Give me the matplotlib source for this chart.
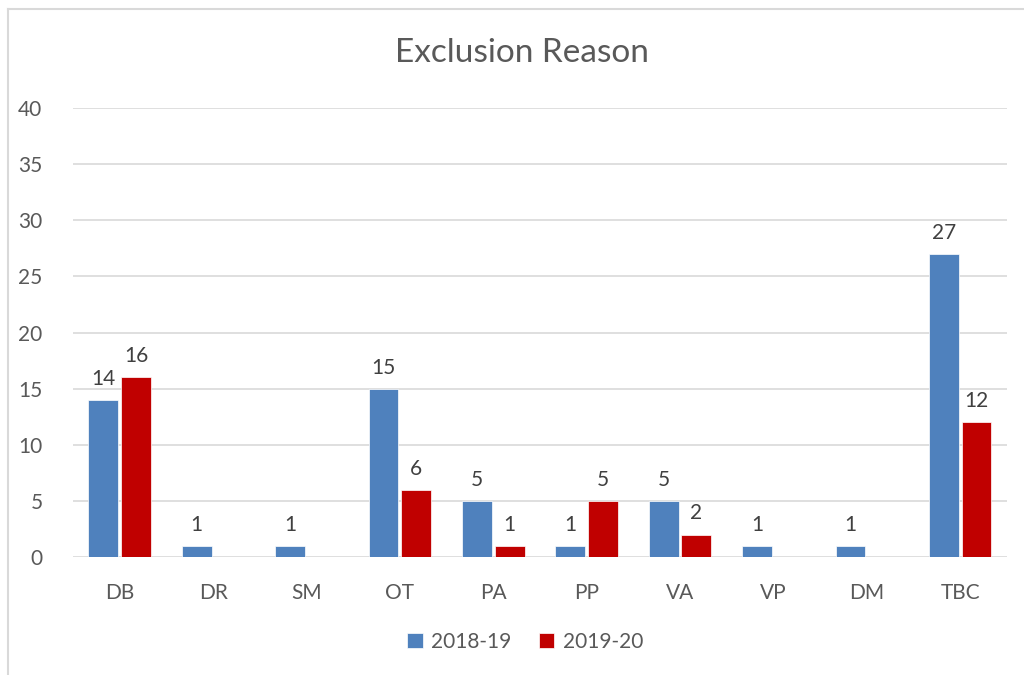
import matplotlib.pyplot as plt
from matplotlib.lines import Line2D
import numpy as np

plt.rcParams['font.family'] = ['Lato', 'DejaVu Sans']

# data
reasons = ['DB', 'DR', 'SM', 'OT', 'PA', 'PP', 'VA', 'VP', 'DM', 'TBC']
y2018 = [14, 1, 1, 15, 5, 1, 5, 1, 1, 27]
y2019 = [16, 0, 0, 6, 1, 5, 2, 0, 0, 12]
series_names = ['2018-19', '2019-20']
# --------------------

blue = '#4F81BD'
red = '#C00000'
txt = '#595959'

fig = plt.figure(figsize=(10.24, 6.75), dpi=100)
ax = fig.add_axes([0.0713, 0.1748, 0.912, 0.6652])

index = np.arange(len(reasons))
width = 0.32
off = 0.175
b1 = ax.bar(index - off, y2018, width, color=blue, edgecolor='white', linewidth=0.5, label=series_names[0], zorder=3)
b2 = ax.bar(index + off, y2019, width, color=red, edgecolor='white', linewidth=0.5, label=series_names[1], zorder=3)

for bars, vals in ((b1, y2018), (b2, y2019)):
    for r, v in zip(bars, vals):
        if v > 0:
            ax.annotate(str(v), (r.get_x() + r.get_width() / 2, v), xytext=(0, 8),
                        textcoords='offset points', ha='center', va='bottom',
                        fontsize=15, color='#404040')

ax.set_xlim(-0.5, len(reasons) - 0.5)
ax.set_ylim(0, 40)
ax.set_yticks(range(0, 41, 5))
ax.set_xticks(index)
ax.set_xticklabels(reasons)
ax.tick_params(axis='both', length=0, labelsize=15, labelcolor=txt)
ax.tick_params(axis='y', pad=22)
ax.tick_params(axis='x', pad=19)
ax.yaxis.grid(True, color='#D9D9D9', linewidth=1.2)
ax.set_axisbelow(True)
for s in ax.spines.values():
    s.set_visible(False)

fig.text(0.51, 0.922, 'Exclusion Reason', ha='center', va='center', fontsize=24, color=txt)

fig.legend(loc='center', bbox_to_anchor=(0.513, 0.049), ncol=2, frameon=False,
           fontsize=15, labelcolor=txt, handlelength=0.75, handleheight=0.75,
           handletextpad=0.4, columnspacing=1.3)

# chart border (left and top visible)
fig.add_artist(Line2D([0.0083, 0.0083], [0, 0.9867], color='#D9D9D9', linewidth=1.5, transform=fig.transFigure))
fig.add_artist(Line2D([0.0083, 1.0], [0.9867, 0.9867], color='#D9D9D9', linewidth=1.5, transform=fig.transFigure))

fig.savefig('out.png', dpi=100)
